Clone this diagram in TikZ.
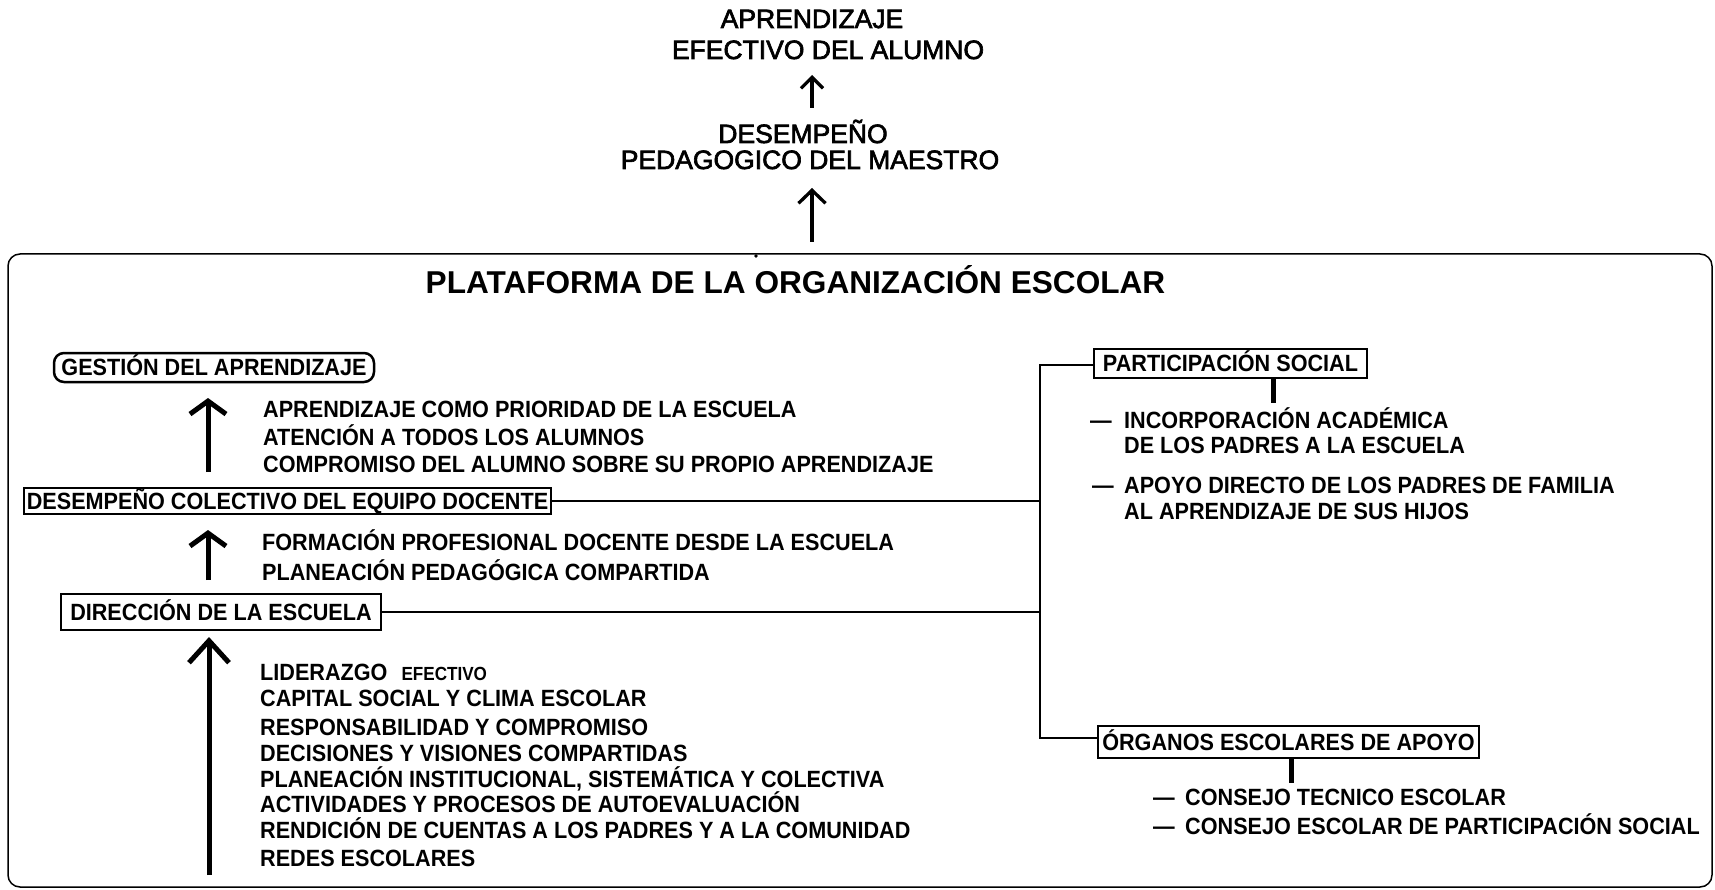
\documentclass[tikz,border=0pt]{standalone}
\usepackage{fontspec}
\setmainfont{Liberation Sans}
\newfontfamily\nfont{Liberation Sans}[FakeStretch=0.92]
\newfontfamily\nnfont{Liberation Sans}[FakeStretch=0.9]
\newfontfamily\topfont{Liberation Sans}[FakeBold=2.5]
\usetikzlibrary{arrows.meta}
\tikzset{
  toptxt/.style={font=\topfont\fontsize{26.5}{30}\selectfont, inner sep=0pt, anchor=base},
  ttl/.style={font=\fontsize{31.6}{36}\selectfont\bfseries, inner sep=0pt, anchor=base},
  txt/.style={font=\nfont\fontsize{23.5}{26}\selectfont\bfseries, inner sep=0pt, anchor=base west},
  boxn/.style={draw, line width=2.5pt, font=\nfont\fontsize{23.5}{26}\selectfont\bfseries,
    inner sep=0pt, text height=16.8pt, text depth=0pt, align=center},
  conn/.style={line width=2pt},
  stub/.style={line width=5pt},
  arrA/.style={line width=3.3pt, -{Straight Barb[length=11pt,width=22pt]}},
  arrB/.style={line width=3.3pt, -{Straight Barb[length=13pt,width=27pt]}},
  arrL/.style={line width=5pt, -{Straight Barb[length=13pt,width=36pt]}},
  arrBig/.style={line width=5pt, -{Straight Barb[length=22pt,width=40pt]}}
}
\begin{document}
\begin{tikzpicture}[x=1pt,y=-1pt]
\useasboundingbox (0,0) rectangle (1715,890);
\fill[white] (0,0) rectangle (1715,890);

% top
\node[toptxt] (t1a) at (812,28) {APRENDIZAJE};
\node[toptxt] (t1b) at (828,59) {EFECTIVO DEL ALUMNO};
\node[toptxt] (t2a) at (803,143) {DESEMPEÑO};
\node[toptxt] (t2b) at (810,169) {PEDAGOGICO DEL MAESTRO};
\coordinate (a1b) at (812,108);
\coordinate (a1t) at (812,75);
\draw[arrA] (a1b) -- (a1t);
\coordinate (a2b) at (812,242);
\coordinate (a2t) at (812,188);
\draw[arrB] (a2b) -- (a2t);

% platform
\draw[line width=1.5pt, rounded corners=12pt] (8,254) rectangle (1712,887);
\fill (756,256) circle (1.8pt);
\node[ttl] (title) at (795.5,294) {PLATAFORMA DE LA ORGANIZACIÓN ESCOLAR};

% left boxes
\node[boxn, minimum width=320pt, minimum height=29pt, rounded corners=10pt] (gest) at (214,367.5) {GESTIÓN DEL APRENDIZAJE};
\node[boxn, minimum width=527pt, minimum height=26pt] (desc) at (287.5,501) {DESEMPEÑO COLECTIVO DEL EQUIPO DOCENTE};
\node[boxn, minimum width=320pt, minimum height=36pt] (dir) at (221,612) {DIRECCIÓN DE LA ESCUELA};

% left arrows
\coordinate (l1b) at (208,472);
\coordinate (l1t) at (208,398);
\draw[arrL] (l1b) -- (l1t);
\coordinate (l2b) at (208,580);
\coordinate (l2t) at (208,530);
\draw[arrL] (l2b) -- (l2t);
\coordinate (l3b) at (209,875);
\coordinate (l3t) at (209,637);
\draw[arrBig] (l3b) -- (l3t);

% middle texts
\node[txt] (m1) at (263,417) {APRENDIZAJE COMO PRIORIDAD DE LA ESCUELA};
\node[txt] (m2) at (263,445) {ATENCIÓN A TODOS LOS ALUMNOS};
\node[txt] (m3) at (263,472) {COMPROMISO DEL ALUMNO SOBRE SU PROPIO APRENDIZAJE};
\node[txt] (m4) at (262,550) {FORMACIÓN PROFESIONAL DOCENTE DESDE LA ESCUELA};
\node[txt] (m5) at (262,580) {PLANEACIÓN PEDAGÓGICA COMPARTIDA};
\node[txt] (b1) at (260,680) {LIDERAZGO\hspace{14pt}{\nnfont\fontsize{19}{21}\selectfont\bfseries EFECTIVO}};
\node[txt] (b2) at (260,706) {CAPITAL SOCIAL Y CLIMA ESCOLAR};
\node[txt] (b3) at (260,735) {RESPONSABILIDAD Y COMPROMISO};
\node[txt] (b4) at (260,761) {DECISIONES Y VISIONES COMPARTIDAS};
\node[txt] (b5) at (260,787) {PLANEACIÓN INSTITUCIONAL, SISTEMÁTICA Y COLECTIVA};
\node[txt] (b6) at (260,812) {ACTIVIDADES Y PROCESOS DE AUTOEVALUACIÓN};
\node[txt] (b7) at (260,838) {RENDICIÓN DE CUENTAS A LOS PADRES Y A LA COMUNIDAD};
\node[txt] (b8) at (260,866) {REDES ESCOLARES};

% right boxes
\node[boxn, minimum width=273pt, minimum height=29pt] (part) at (1230.5,363.5) {PARTICIPACIÓN SOCIAL};
\node[boxn, minimum width=381pt, minimum height=32pt] (org) at (1288.5,742) {ÓRGANOS ESCOLARES DE APOYO};

% connectors
\coordinate (jt) at (1040,365);
\coordinate (jb) at (1040,738);
\draw[conn] (desc.east) -- (desc.east -| jt);
\draw[conn] (dir.east) -- (dir.east -| jt);
\draw[conn] (part.west |- jt) -- (jt) -- (jb) -- (org.west |- jb);
\coordinate (ps) at (1273,403);
\draw[stub] (part.south -| ps) -- (ps);
\coordinate (os) at (1291,783);
\draw[stub] (org.south -| os) -- (os);

% right texts
\node[txt] (r1) at (1090,428.5) {\makebox[34pt][l]{—}INCORPORACIÓN ACADÉMICA};
\node[txt] (r2) at (1124,453.5) {DE LOS PADRES A LA ESCUELA};
\node[txt] (r3) at (1092,493.5) {\makebox[32pt][l]{—}APOYO DIRECTO DE LOS PADRES DE FAMILIA};
\node[txt] (r4) at (1124,519) {AL APRENDIZAJE DE SUS HIJOS};
\node[txt] (r5) at (1153,805.5) {\makebox[32pt][l]{—}CONSEJO TECNICO ESCOLAR};
\node[txt] (r6) at (1153,834.5) {\makebox[32pt][l]{—}CONSEJO ESCOLAR DE PARTICIPACIÓN SOCIAL};
\end{tikzpicture}
\end{document}
